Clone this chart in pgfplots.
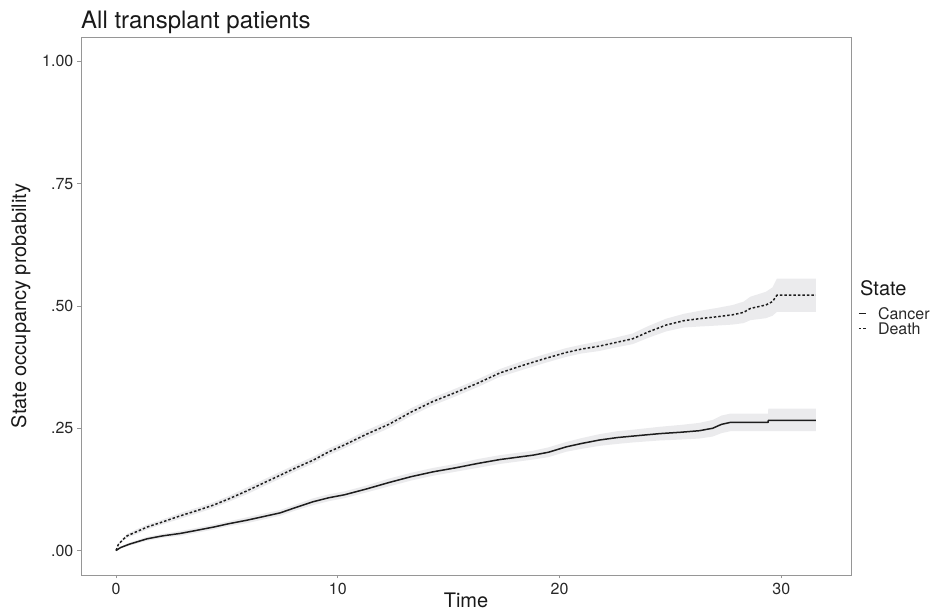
\documentclass[border=0pt]{standalone}
\usepackage{pgfplots}
\pgfplotsset{compat=1.18}
\usepackage{pgfplotstable}
\usepgfplotslibrary{fillbetween}
\usepackage{fontspec}
\setmainfont{TeX Gyre Heros}

\definecolor{framecol}{RGB}{150,150,150}
\definecolor{bandcol}{RGB}{235,235,237}
\definecolor{linecol}{RGB}{30,30,30}
\definecolor{txtcol}{RGB}{40,40,40}

% t  est  lo  hi
\pgfplotstableread{
t est lo hi
0 0 0 0
0.1 0.012 0.010 0.014
0.3 0.022 0.019 0.025
0.5 0.030 0.026 0.034
1.0 0.040 0.035 0.045
1.4 0.048 0.043 0.053
2.0 0.057 0.052 0.062
2.9 0.071 0.065 0.077
3.6 0.081 0.075 0.087
4.4 0.093 0.087 0.099
5.1 0.106 0.100 0.112
5.9 0.122 0.115 0.129
6.6 0.137 0.130 0.144
7.4 0.154 0.147 0.161
8.1 0.169 0.162 0.176
8.9 0.185 0.178 0.192
9.6 0.202 0.195 0.209
10.3 0.216 0.209 0.223
11.3 0.238 0.230 0.246
12.3 0.258 0.250 0.266
13.3 0.283 0.275 0.291
14.3 0.305 0.297 0.313
15.3 0.323 0.315 0.331
16.3 0.342 0.334 0.350
17.3 0.363 0.355 0.371
18.3 0.378 0.369 0.387
19.3 0.392 0.383 0.401
20.3 0.405 0.396 0.414
21.0 0.412 0.403 0.421
21.8 0.418 0.408 0.428
22.5 0.425 0.415 0.435
23.3 0.433 0.422 0.444
24.0 0.447 0.435 0.459
24.8 0.461 0.448 0.474
25.6 0.470 0.456 0.484
26.3 0.474 0.458 0.490
27.1 0.478 0.460 0.496
27.8 0.482 0.462 0.502
28.3 0.487 0.465 0.509
28.6 0.495 0.471 0.519
29.3 0.502 0.475 0.529
29.6 0.509 0.480 0.538
29.8 0.522 0.488 0.556
31.56 0.522 0.488 0.556
}\death

\pgfplotstableread{
t est lo hi
0 0 0 0
0.2 0.006 0.004 0.008
0.6 0.013 0.010 0.016
1.4 0.024 0.020 0.028
2.1 0.030 0.026 0.034
2.9 0.035 0.030 0.040
3.6 0.041 0.036 0.046
4.4 0.048 0.043 0.053
5.1 0.055 0.050 0.060
5.9 0.062 0.056 0.068
6.6 0.069 0.063 0.075
7.4 0.077 0.071 0.083
8.1 0.088 0.082 0.094
8.9 0.100 0.093 0.107
9.6 0.108 0.101 0.115
10.3 0.114 0.107 0.121
11.3 0.126 0.119 0.133
12.3 0.139 0.131 0.147
13.3 0.151 0.143 0.159
14.3 0.161 0.153 0.169
15.3 0.169 0.161 0.177
16.3 0.178 0.169 0.187
17.3 0.186 0.177 0.195
18.3 0.192 0.183 0.201
18.8 0.195 0.186 0.204
19.5 0.201 0.191 0.211
20.3 0.212 0.202 0.222
21.0 0.219 0.208 0.230
21.8 0.226 0.214 0.238
22.6 0.231 0.218 0.244
23.3 0.234 0.221 0.247
24.5 0.239 0.225 0.253
25.5 0.242 0.227 0.257
26.3 0.245 0.229 0.261
26.9 0.250 0.233 0.267
27.3 0.258 0.240 0.276
27.7 0.262 0.244 0.280
29.4 0.262 0.244 0.280
29.41 0.266 0.244 0.290
31.56 0.266 0.244 0.290
}\cancer

\begin{document}
\begin{tikzpicture}
\begin{axis}[
  name=ax,
  scale only axis,
  width=770pt, height=538pt,
  xmin=-1.58, xmax=33.14,
  ymin=-0.05, ymax=1.05,
  xtick={0,10,20,30}, xticklabels={0,10,20,30},
  ytick={0,0.25,0.5,0.75,1}, yticklabels={.00,.25,.50,.75,1.00},
  xtick pos=bottom, ytick pos=left,
  tick align=outside, major tick length=3.5pt,
  axis line style={framecol, line width=0.8pt},
  tick style={framecol, line width=0.8pt},
  /pgf/number format/assume math mode=true,
  tick label style={font=\fontsize{16}{16}\selectfont, text=txtcol},
  x tick label style={inner sep=0pt, anchor=north, yshift=-4pt},
  y tick label style={inner sep=0pt, anchor=east, xshift=-4pt},
  every axis title shift=0pt,
  title={All transplant patients},
  title style={at={(axis description cs:0,1.0149)}, anchor=base west, inner sep=0pt, font=\fontsize{24}{24}\selectfont, text=black!90},
  xlabel={Time},
  xlabel style={at={(axis description cs:0.5,-0.0613)}, anchor=base, inner sep=0pt, font=\fontsize{20}{20}\selectfont, text=black!90},
  ylabel={State occupancy probability},
  ylabel style={at={(axis description cs:-0.0714,0.5)}, anchor=base, inner sep=0pt, font=\fontsize{20}{20}\selectfont, text=black!90},
  clip=false,
  legend style={at={(axis description cs:1,0.498)}, anchor=north west, xshift=7pt,
    draw=none, fill=none, inner sep=0pt, outer sep=0pt, row sep=2.5pt, column sep=0pt,
    font=\fontsize{16}{16}\selectfont,
    nodes={inner sep=0.5pt, text height=11.5pt, text depth=0pt, text=txtcol}},
  legend cell align=left,
  legend image code/.code={\draw[#1] (0pt,0pt) -- (7pt,0pt);},
]
\addplot[name path=dhi, draw=none, forget plot] table[x=t, y=hi] {\death};
\addplot[name path=dlo, draw=none, forget plot] table[x=t, y=lo] {\death};
\addplot[bandcol, forget plot] fill between[of=dhi and dlo];
\addplot[name path=chi, draw=none, forget plot] table[x=t, y=hi] {\cancer};
\addplot[name path=clo, draw=none, forget plot] table[x=t, y=lo] {\cancer};
\addplot[bandcol, forget plot] fill between[of=chi and clo];

\addplot[linecol, line width=1.5pt, line join=round] table[x=t, y=est] {\cancer};
\addlegendentry{\hspace{11pt}Cancer}
\addplot[linecol, line width=1.5pt, dash pattern=on 2.5pt off 2pt] table[x=t, y=est] {\death};
\addlegendentry{\hspace{11pt}Death}

\node[anchor=base west, inner sep=0pt, font=\fontsize{20}{20}\selectfont, text=black!90]
  at (axis description cs:1.0117,0.5204) {State};
\end{axis}
\pgfresetboundingbox
\path[use as bounding box] (-81pt,-37pt) rectangle (852pt,575pt);
\end{tikzpicture}
\end{document}
